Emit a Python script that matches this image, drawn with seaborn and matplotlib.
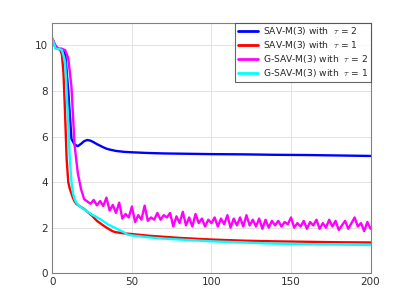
import numpy as np
import pandas as pd
import matplotlib
matplotlib.use("Agg")
import matplotlib.pyplot as plt
import seaborn as sns

# SAV-M(3), tau = 2
x_blue = [0, 2, 4, 6, 8, 10, 12, 14, 16, 18, 20, 22, 24, 26, 28, 30, 32, 34, 36, 38, 40,
          45, 50, 60, 70, 80, 100, 120, 140, 160, 180, 200]
y_blue = [10.3, 9.9, 9.85, 9.85, 9.7, 8.0, 5.9, 5.65, 5.58, 5.68, 5.8, 5.85, 5.82, 5.75, 5.67,
          5.6, 5.53, 5.47, 5.43, 5.4, 5.37, 5.33, 5.31, 5.28, 5.26, 5.25, 5.23, 5.22, 5.2, 5.19,
          5.17, 5.15]

# SAV-M(3), tau = 1
x_red = [0, 1, 2, 3, 4, 5, 6, 7, 8, 9, 10, 11, 12, 13, 14, 15, 17, 20, 22, 25, 28, 30, 33,
         36, 38, 40, 45, 50, 60, 70, 80, 100, 120, 140, 160, 180, 200]
y_red = [10.3, 10.1, 9.9, 9.85, 9.85, 9.8, 9.6, 8.8, 7.0, 5.0, 4.0, 3.7, 3.5, 3.3, 3.15, 3.05,
         2.95, 2.82, 2.7, 2.52, 2.3, 2.2, 2.05, 1.92, 1.84, 1.8, 1.75, 1.72, 1.65, 1.6, 1.55,
         1.48, 1.43, 1.4, 1.38, 1.36, 1.35]

# G-SAV-M(3), tau = 2
x_mag = list(range(0, 202, 2))
y_mag = [10.3, 10.0, 9.85, 9.85, 9.8, 9.45, 8.2, 5.6, 4.4, 3.7,
         3.25, 3.15, 3.05, 3.22, 2.98, 3.17, 2.95, 3.32, 2.75, 3.0,
         2.65, 3.1, 2.4, 2.6, 2.45, 2.93, 2.25, 2.55, 2.35, 2.97,
         2.3, 2.45, 2.35, 2.65, 2.35, 2.55, 2.45, 2.65, 2.05, 2.5,
         2.2, 2.7, 2.1, 2.45, 2.05, 2.6, 2.2, 2.4, 2.05, 2.35,
         2.2, 2.45, 2.05, 2.4, 2.15, 2.55, 2.0, 2.4, 2.1, 2.45,
         2.05, 2.55, 2.1, 2.35, 2.05, 2.4, 1.95, 2.35, 2.0, 2.3,
         2.1, 2.3, 2.05, 2.25, 2.15, 2.45, 2.0, 2.2, 2.05, 2.3,
         1.95, 2.25, 2.1, 2.35, 1.95, 2.2, 2.0, 2.35, 2.05, 2.3,
         1.9, 2.1, 2.3, 1.95, 2.2, 2.45, 2.05, 2.2, 1.85, 2.25,
         1.95]

# G-SAV-M(3), tau = 1
x_cyan = [0, 2, 4, 6, 8, 9, 10, 11, 12, 13, 14, 15, 17, 20, 25, 30, 35, 40, 45, 47, 50,
          60, 70, 80, 100, 120, 140, 160, 180, 200]
y_cyan = [10.3, 9.85, 9.85, 9.8, 9.3, 8.0, 6.5, 5.0, 4.0, 3.5, 3.25, 3.1, 2.95, 2.8, 2.57,
          2.38, 2.14, 1.97, 1.8, 1.7, 1.66, 1.58, 1.52, 1.48, 1.4, 1.35, 1.3, 1.28, 1.26, 1.24]

labels = [r"SAV-M(3) with  $\tau$ = 2", r"SAV-M(3) with  $\tau$ = 1",
          r"G-SAV-M(3) with  $\tau$ = 2", r"G-SAV-M(3) with  $\tau$ = 1"]
colors = ["#0000ff", "#ff0000", "#ff00ff", "#00ffff"]

df = pd.concat([
    pd.DataFrame({"t": x_blue, "E": y_blue, "method": labels[0]}),
    pd.DataFrame({"t": x_red, "E": y_red, "method": labels[1]}),
    pd.DataFrame({"t": x_mag, "E": y_mag, "method": labels[2]}),
    pd.DataFrame({"t": x_cyan, "E": y_cyan, "method": labels[3]}),
])

sns.set_style("white")
plt.rcParams["font.family"] = ["DejaVu Sans"]
plt.rcParams["mathtext.fontset"] = "cm"

fig = plt.figure(figsize=(4.09, 3.07), dpi=100)
ax = fig.add_axes([0.128, 0.110, 0.778, 0.816])

sns.lineplot(data=df, x="t", y="E", hue="method", hue_order=labels,
             palette=dict(zip(labels, colors)), linewidth=1.7, ax=ax,
             estimator=None, sort=False)

ax.set_xlim(0, 200)
ax.set_ylim(0, 11)
ax.set_xticks([0, 50, 100, 150, 200])
ax.set_yticks([0, 2, 4, 6, 8, 10])
ax.set_xlabel("")
ax.set_ylabel("")
ax.grid(True, color="#e3e3e3", linewidth=0.7)
ax.set_axisbelow(True)
for s in ax.spines.values():
    s.set_color("#808080")
    s.set_linewidth(0.8)
ax.tick_params(direction="in", length=3, width=0.6, color="#606060",
               labelsize=7.5, labelcolor="#303030", pad=3)

leg = ax.legend(loc="upper right", fontsize=6.6, frameon=True, fancybox=False,
                borderaxespad=0.0, handlelength=2.2, handletextpad=0.5,
                labelspacing=0.2, borderpad=0.3)
leg.get_frame().set_edgecolor("#404040")
leg.get_frame().set_linewidth(0.8)
for line in leg.get_lines():
    line.set_linewidth(2.0)

fig.savefig("out.png", dpi=100)
